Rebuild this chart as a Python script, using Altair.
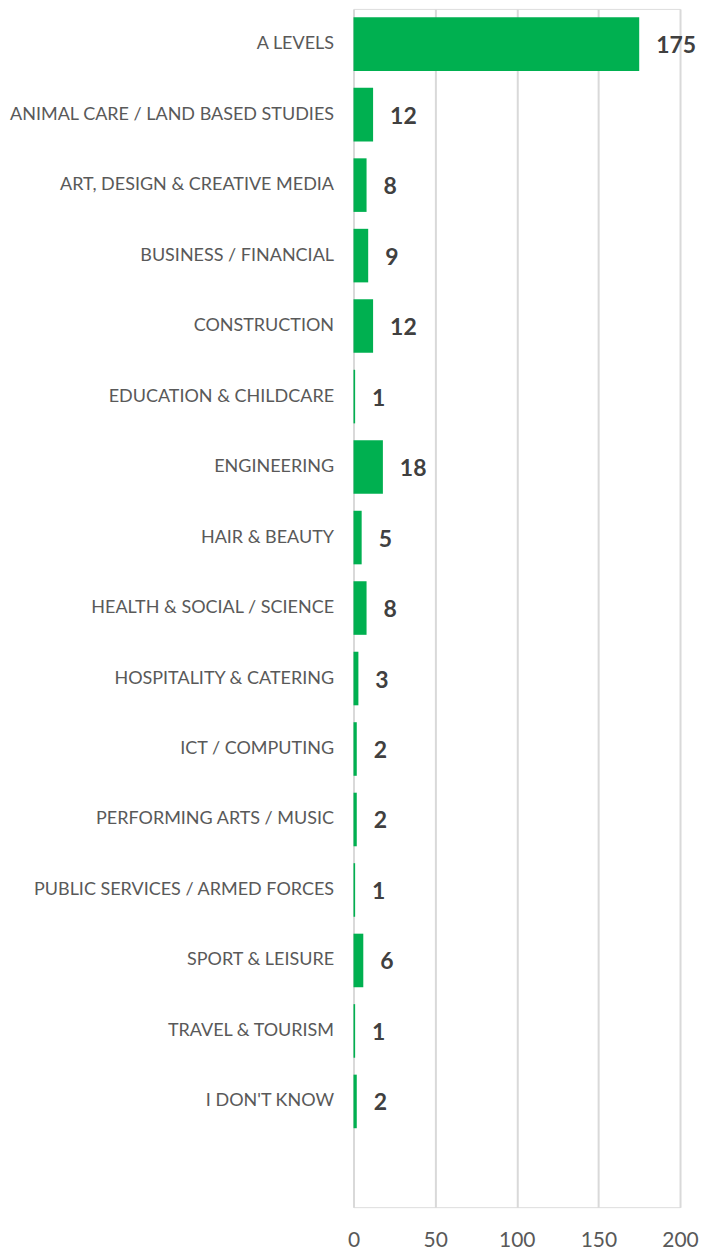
import altair as alt
import pandas as pd

categories = [
    "A LEVELS",
    "ANIMAL CARE / LAND BASED STUDIES",
    "ART, DESIGN & CREATIVE MEDIA",
    "BUSINESS / FINANCIAL",
    "CONSTRUCTION",
    "EDUCATION & CHILDCARE",
    "ENGINEERING",
    "HAIR & BEAUTY",
    "HEALTH & SOCIAL / SCIENCE",
    "HOSPITALITY & CATERING",
    "ICT / COMPUTING",
    "PERFORMING ARTS / MUSIC",
    "PUBLIC SERVICES / ARMED FORCES",
    "SPORT & LEISURE",
    "TRAVEL & TOURISM",
    "I DON'T KNOW",
]
values = [175, 12, 8, 9, 12, 1, 18, 5, 8, 3, 2, 2, 1, 6, 1, 2]
x_ticks = [0, 50, 100, 150, 200]

df = pd.DataFrame({"category": categories, "value": values})

# extra empty band at the bottom, as in the reference
domain = categories + [" "]

FONT = "Lato"

y_enc = alt.Y(
    "category:N",
    sort=domain,
    scale=alt.Scale(domain=domain, paddingInner=0.24, paddingOuter=0.12),
    axis=alt.Axis(
        title=None,
        ticks=False,
        domain=False,
        grid=False,
        labelPadding=20,
        labelLimit=400,
        minExtent=345,
        maxExtent=345,
        labelFont=FONT,
        labelFontSize=18,
        labelColor="#595959",
    ),
)

x_enc = alt.X(
    "value:Q",
    scale=alt.Scale(domain=[0, 200], nice=False),
    axis=alt.Axis(
        title=None,
        values=x_ticks,
        ticks=False,
        domain=False,
        grid=True,
        gridColor="#D9D9D9",
        gridWidth=2,
        labelFlush=False,
        labelPadding=22,
        labelFont=FONT,
        labelFontSize=21,
        labelColor="#595959",
    ),
)

bars = alt.Chart(df).mark_bar(color="#00B050").encode(x=x_enc, y=y_enc)

labels = alt.Chart(df).mark_text(
    align="left",
    baseline="middle",
    dx=17,
    dy=2,
    font=FONT,
    fontSize=23,
    fontWeight="bold",
    color="#404040",
).encode(x="value:Q", y=alt.Y("category:N", sort=domain), text="value:Q")

chart = (
    alt.layer(bars, labels)
    .properties(width=327, height=1200, padding={"left": 0, "top": 0, "right": 0, "bottom": 0})
    .configure_view(stroke=None)
    .configure(background="white")
)

chart.save("out.html", embed_options={"renderer": "svg", "actions": False})
